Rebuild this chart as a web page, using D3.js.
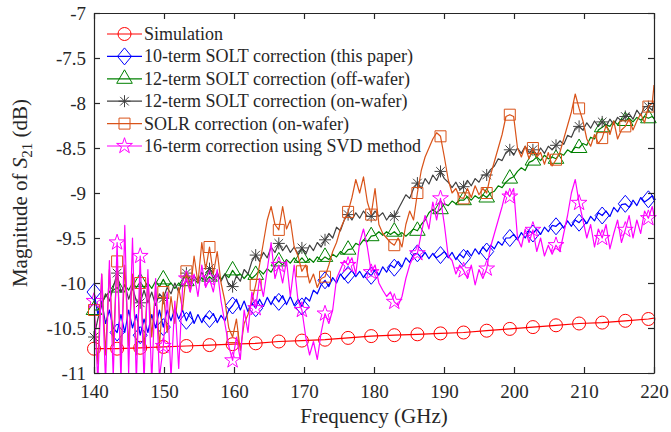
<!DOCTYPE html>
<html>
<head>
<script src="https://cdn.jsdelivr.net/npm/d3@7"></script>
</head>
<body style="margin:0">
<script>
// frequency grid of the measured curves (GHz), markers on every 6th point
var freq = d3.range(146).map(function(i) { return +(140 + 0.55 * i).toFixed(2); }).concat([220]);
var simFreq = freq.filter(function(f, i) { return i % 6 === 0 && i <= 144; }).concat([220]);

var simulation = [-10.73,-10.73,-10.72,-10.71,-10.70,-10.69,-10.68,-10.67,-10.65,-10.64,-10.63,-10.61,-10.59,
  -10.58,-10.57,-10.56,-10.55,-10.53,-10.51,-10.49,-10.47,-10.45,-10.44,-10.42,-10.40,-10.39];

var solt10 = [
  -10.10,-10.35,-10.20,-10.45,-10.30,-10.50,
  -10.55,-10.35,-10.55,-10.30,-10.50,-10.35,
  -10.58,-10.40,-10.55,-10.35,-10.50,-10.30,
  -10.49,-10.30,-10.42,-10.28,-10.40,-10.30,
  -10.42,-10.32,-10.45,-10.35,-10.44,-10.36,
  -10.40,-10.34,-10.44,-10.36,-10.42,-10.30,
  -10.25,-10.18,-10.30,-10.20,-10.32,-10.22,
  -10.28,-10.18,-10.26,-10.16,-10.24,-10.15,
  -10.21,-10.14,-10.24,-10.15,-10.25,-10.18,
  -10.26,-10.16,-10.20,-10.08,-10.12,-10.02,
  -9.97,-10.04,-9.94,-10.00,-9.90,-9.96,
  -9.91,-9.86,-9.93,-9.87,-9.94,-9.88,
  -9.92,-9.85,-9.91,-9.82,-9.88,-9.80,
  -9.83,-9.76,-9.82,-9.72,-9.77,-9.68,
  -9.67,-9.72,-9.66,-9.73,-9.67,-9.72,
  -9.69,-9.65,-9.72,-9.66,-9.74,-9.68,
  -9.72,-9.64,-9.70,-9.62,-9.68,-9.60,
  -9.65,-9.58,-9.62,-9.54,-9.58,-9.50,
  -9.50,-9.46,-9.52,-9.44,-9.50,-9.42,
  -9.45,-9.40,-9.46,-9.38,-9.43,-9.36,
  -9.37,-9.33,-9.39,-9.31,-9.37,-9.30,
  -9.33,-9.28,-9.34,-9.26,-9.31,-9.22,
  -9.25,-9.20,-9.26,-9.16,-9.21,-9.13,
  -9.12,-9.16,-9.08,-9.14,-9.05,-9.10,
  -9.07,-9.03,-9.08];

var solt12Off = [
  -10.30,-10.30,-10.22,-10.15,-10.10,-10.08,
  -10.05,-10.10,-10.02,-10.08,-10.00,-10.05,
  -9.99,-10.05,-10.00,-10.06,-9.98,-10.04,
  -9.96,-10.04,-10.00,-10.06,-10.00,-10.04,
  -9.98,-10.02,-9.96,-10.00,-9.94,-9.98,
  -9.93,-9.97,-9.92,-9.96,-9.90,-9.94,
  -9.86,-9.92,-9.90,-9.95,-9.90,-9.95,
  -9.91,-9.86,-9.90,-9.84,-9.88,-9.80,
  -9.76,-9.80,-9.74,-9.78,-9.72,-9.77,
  -9.72,-9.77,-9.73,-9.77,-9.71,-9.75,
  -9.71,-9.74,-9.68,-9.71,-9.65,-9.68,
  -9.63,-9.62,-9.56,-9.58,-9.52,-9.54,
  -9.48,-9.47,-9.43,-9.47,-9.43,-9.46,
  -9.43,-9.47,-9.44,-9.48,-9.44,-9.40,
  -9.42,-9.35,-9.30,-9.22,-9.18,-9.22,
  -9.18,-9.12,-9.14,-9.09,-9.12,-9.08,
  -9.08,-9.04,-9.08,-9.03,-9.06,-9.02,
  -9.05,-9.00,-8.98,-8.92,-8.94,-8.88,
  -8.84,-8.82,-8.76,-8.72,-8.75,-8.66,
  -8.64,-8.60,-8.64,-8.58,-8.62,-8.60,
  -8.62,-8.56,-8.58,-8.52,-8.55,-8.49,
  -8.50,-8.45,-8.47,-8.38,-8.40,-8.30,
  -8.27,-8.24,-8.26,-8.20,-8.24,-8.18,
  -8.20,-8.17,-8.21,-8.16,-8.19,-8.15,
  -8.17,-8.15,-8.17];

var solt12On = [
  -10.60,-10.40,-10.25,-10.12,-10.20,-10.05,
  -9.89,-10.10,-10.02,-10.18,-10.05,-10.20,
  -10.22,-10.08,-10.22,-10.10,-10.25,-10.12,
  -10.17,-10.05,-10.12,-10.00,-10.10,-9.98,
  -9.89,-10.00,-9.92,-9.98,-9.88,-9.96,
  -9.84,-9.95,-9.88,-9.98,-9.90,-10.02,
  -10.04,-9.92,-9.98,-9.85,-9.90,-9.76,
  -9.69,-9.76,-9.66,-9.72,-9.60,-9.66,
  -9.56,-9.64,-9.58,-9.66,-9.60,-9.68,
  -9.61,-9.68,-9.58,-9.64,-9.55,-9.60,
  -9.52,-9.45,-9.50,-9.38,-9.42,-9.30,
  -9.24,-9.30,-9.22,-9.28,-9.20,-9.26,
  -9.26,-9.20,-9.26,-9.22,-9.30,-9.24,
  -9.26,-9.18,-9.10,-9.02,-9.06,-8.95,
  -8.89,-8.95,-8.84,-8.90,-8.80,-8.86,
  -8.76,-8.84,-8.88,-8.94,-8.88,-8.96,
  -8.93,-8.86,-8.92,-8.84,-8.88,-8.80,
  -8.80,-8.74,-8.70,-8.62,-8.64,-8.55,
  -8.52,-8.58,-8.50,-8.56,-8.48,-8.55,
  -8.52,-8.58,-8.50,-8.56,-8.48,-8.52,
  -8.47,-8.42,-8.46,-8.36,-8.38,-8.28,
  -8.26,-8.30,-8.22,-8.28,-8.20,-8.26,
  -8.21,-8.26,-8.18,-8.24,-8.16,-8.20,
  -8.15,-8.12,-8.18,-8.08,-8.14,-8.04,
  -8.04,-8.08,-8.00];

var solr = [
  -10.30,-10.90,-9.90,-10.80,-9.85,-10.70,
  -9.76,-10.85,-9.80,-10.70,-9.90,-10.80,
  -10.00,-10.75,-9.95,-10.60,-10.05,-10.70,
  -10.10,-10.55,-10.15,-10.45,-10.05,-10.30,
  -9.87,-10.10,-9.70,-10.00,-9.55,-9.85,
  -9.60,-9.90,-9.65,-10.00,-10.20,-10.50,
  -10.60,-10.40,-10.75,-10.45,-10.35,-10.20,
  -10.02,-9.80,-9.55,-9.30,-9.15,-9.35,
  -9.41,-9.15,-9.40,-9.30,-9.60,-9.70,
  -9.87,-9.80,-10.00,-9.90,-10.05,-9.95,
  -9.93,-9.80,-9.65,-9.55,-9.40,-9.30,
  -9.21,-9.05,-8.85,-9.00,-8.82,-9.10,
  -9.24,-8.95,-9.35,-9.45,-9.50,-9.55,
  -9.58,-9.50,-9.60,-9.35,-9.20,-9.30,
  -9.00,-8.75,-8.60,-8.50,-8.40,-8.33,
  -8.37,-8.60,-8.85,-9.00,-8.95,-9.05,
  -9.06,-8.95,-9.05,-8.92,-9.02,-8.95,
  -9.00,-8.80,-8.65,-8.50,-8.35,-8.15,
  -8.13,-8.15,-8.50,-8.60,-8.48,-8.62,
  -8.50,-8.60,-8.55,-8.68,-8.55,-8.70,
  -8.63,-8.55,-8.40,-8.25,-8.10,-7.90,
  -8.06,-8.20,-8.40,-8.48,-8.35,-8.45,
  -8.39,-8.25,-8.35,-8.20,-8.40,-8.30,
  -8.26,-8.18,-8.30,-8.20,-8.12,-8.22,
  -8.04,-8.00,-7.80];

var svd16 = [
  -10.20,-11.10,-9.90,-11.10,-9.75,-11.05,
  -9.55,-11.10,-9.36,-11.00,-9.50,-11.10,
  -9.70,-11.10,-9.85,-11.10,-9.95,-11.05,
  -10.70,-10.10,-11.05,-10.20,-10.95,-10.05,
  -9.95,-10.10,-9.90,-10.15,-9.80,-10.05,
  -9.95,-10.10,-9.85,-10.20,-10.45,-10.70,
  -10.86,-10.60,-10.85,-10.30,-10.55,-10.10,
  -10.28,-9.95,-10.15,-9.85,-9.55,-9.95,
  -9.80,-10.00,-9.75,-10.15,-9.80,-10.20,
  -10.30,-10.60,-10.80,-10.65,-10.85,-10.55,
  -10.34,-10.45,-10.30,-9.95,-9.85,-9.75,
  -9.80,-9.72,-9.90,-9.55,-9.40,-9.60,
  -9.88,-9.80,-10.00,-10.08,-10.15,-10.10,
  -10.21,-10.25,-10.15,-9.95,-9.80,-9.70,
  -9.67,-9.45,-9.25,-9.40,-9.10,-9.30,
  -9.06,-9.35,-9.70,-9.75,-9.90,-9.80,
  -9.86,-9.95,-9.80,-10.02,-9.85,-9.95,
  -9.84,-9.60,-9.45,-9.30,-9.15,-8.98,
  -9.04,-8.95,-9.50,-9.60,-9.40,-9.55,
  -9.41,-9.65,-9.50,-9.70,-9.58,-9.68,
  -9.58,-9.65,-9.45,-9.25,-9.00,-8.85,
  -9.11,-9.30,-9.50,-9.35,-9.60,-9.40,
  -9.50,-9.35,-9.62,-9.45,-9.30,-9.55,
  -9.41,-9.25,-9.50,-9.30,-9.45,-9.20,
  -9.28,-9.15,-9.25];

var names = ["Simulation", "10-term SOLT correction (this paper)", "12-term SOLT correction (off-wafer)",
  "12-term SOLT correction (on-wafer)", "SOLR correction (on-wafer)", "16-term correction using SVD method"];
var colors = ["#FF0000", "#0000FF", "#008000", "#404040", "#D95319", "#FF00FF"];
var markers = ["circle", "diamond", "triangle", "asterisk", "square", "star"];
var xTicks = [140, 150, 160, 170, 180, 190, 200, 210, 220];
var yTicks = [-11, -10.5, -10, -9.5, -9, -8.5, -8, -7.5, -7];

var series = [
  {x: simFreq, y: simulation, step: 1},
  {x: freq, y: solt10, step: 6},
  {x: freq, y: solt12Off, step: 6},
  {x: freq, y: solt12On, step: 6},
  {x: freq, y: solr, step: 6},
  {x: freq, y: svd16, step: 6}
];

var W = 671, H = 432;
var margin = {top: 13, right: 17, bottom: 59, left: 94},
    width = W - margin.left - margin.right,
    height = H - margin.top - margin.bottom;

var svg = d3.select("body").append("svg")
    .attr("width", W)
    .attr("height", H)
    .attr("font-family", "Times New Roman");

var g = svg.append("g")
    .attr("transform", "translate(" + margin.left + "," + margin.top + ")");

var x = d3.scaleLinear().domain([140, 220]).range([0, width]);
var y = d3.scaleLinear().domain([-11, -7]).range([height, 0]);

g.append("clipPath").attr("id", "clip")
  .append("rect").attr("width", width).attr("height", height);

// marker shapes (matlab-like sizes)
function markerPath(type) {
  if (type == "circle") {
    var r = 6.5;
    return "M" + r + ",0A" + r + "," + r + " 0 1,1 " + (-r) + ",0A" + r + "," + r + " 0 1,1 " + r + ",0Z";
  } else if (type == "diamond") {
    return "M0,-8.5L7,0L0,8.5L-7,0Z";
  } else if (type == "triangle") {
    return "M0,-9L7.8,4.5L-7.8,4.5Z";
  } else if (type == "square") {
    return "M-5.5,-5.5H5.5V5.5H-5.5Z";
  } else if (type == "asterisk") {
    var a = 6, b = 4.3;
    return "M" + (-a) + ",0H" + a + "M0," + (-a) + "V" + a +
      "M" + (-b) + "," + (-b) + "L" + b + "," + b + "M" + (-b) + "," + b + "L" + b + "," + (-b);
  } else {
    var R = 8.3, rr = 3.2, p = [];
    for (var k = 0; k < 10; k++) {
      var ang = -Math.PI / 2 + k * Math.PI / 5, rad = k % 2 ? rr : R;
      p.push([rad * Math.cos(ang), rad * Math.sin(ang)]);
    }
    return "M" + p.join("L") + "Z";
  }
}

var line = d3.line()
  .x(function(d) { return x(d[0]); })
  .y(function(d) { return y(d[1]); });

series.forEach(function(s, k) {
  var pts = s.x.map(function(f, i) { return [f, s.y[i]]; });
  g.append("path")
    .datum(pts)
    .attr("clip-path", "url(#clip)")
    .attr("fill", "none")
    .attr("stroke", colors[k])
    .attr("stroke-width", 1.2)
    .attr("stroke-linejoin", "round")
    .attr("d", line);

  var idx = d3.range(0, pts.length - 1, s.step);
  g.append("g").selectAll("path")
    .data(idx.map(function(i) { return pts[i]; }))
    .enter()
    .append("path")
      .attr("transform", function(d) { return "translate(" + x(d[0]) + "," + y(d[1]) + ")"; })
      .attr("d", markerPath(markers[k]))
      .attr("fill", "none")
      .attr("stroke", colors[k])
      .attr("stroke-width", 1);
});

// axes: box with inward ticks on all sides
var tickFmt = function(d) { return String(d); };
g.append("g").attr("transform", "translate(0," + height + ")")
  .call(d3.axisBottom(x).tickValues(xTicks).tickFormat(tickFmt).tickSize(-6).tickSizeOuter(0).tickPadding(12));
g.append("g")
  .call(d3.axisLeft(y).tickValues(yTicks).tickFormat(tickFmt).tickSize(-6).tickSizeOuter(0).tickPadding(8));
g.append("g")
  .call(d3.axisTop(x).tickValues(xTicks).tickFormat("").tickSize(-6).tickSizeOuter(0));
g.append("g").attr("transform", "translate(" + width + ",0)")
  .call(d3.axisRight(y).tickValues(yTicks).tickFormat("").tickSize(-6).tickSizeOuter(0));

g.selectAll("g").attr("font-family", "Times New Roman").attr("font-size", null);
g.selectAll(".domain, .tick line").attr("stroke", "#262626").attr("stroke-width", 1.2);
g.selectAll(".tick text")
  .attr("fill", "#262626")
  .attr("font-family", "Times New Roman")
  .style("font-family", "'Times New Roman'")
  .style("font-size", "19px");

// axis labels
svg.append("text")
  .attr("x", margin.left + width / 2)
  .attr("y", 423)
  .attr("text-anchor", "middle")
  .attr("fill", "#262626")
  .attr("font-family", "Times New Roman")
  .style("font-family", "'Times New Roman'")
  .style("font-size", "21px")
  .text("Frequency (GHz)");

var yl = svg.append("text")
  .attr("transform", "translate(27," + (margin.top + height / 2) + ") rotate(-90)")
  .attr("text-anchor", "middle")
  .attr("fill", "#262626")
  .attr("font-family", "Times New Roman")
  .style("font-family", "'Times New Roman'")
  .style("font-size", "21px");
yl.append("tspan").text("Magnitude of ");
yl.append("tspan").style("font-style", "italic").text("S");
yl.append("tspan").attr("dy", 5).style("font-size", "15px").text("21");
yl.append("tspan").attr("dy", -5).text(" (dB)");

// legend
for (var i = 0; i < names.length; i++) {
  var ly = margin.top + 21 + i * 22.4;
  var lg = svg.append("g").attr("transform", "translate(0," + ly + ")");
  lg.append("line").attr("x1", 107).attr("x2", 142).attr("y1", 0).attr("y2", 0)
    .attr("stroke", colors[i]).attr("stroke-width", 1.2);
  lg.append("path").attr("transform", "translate(124.5,0)")
    .attr("d", markerPath(markers[i]))
    .attr("fill", "none").attr("stroke", colors[i]).attr("stroke-width", 1);
  lg.append("text").attr("x", 144).attr("y", 0).attr("dy", "0.33em")
    .attr("fill", "#262626")
    .attr("font-family", "Times New Roman")
    .style("font-family", "'Times New Roman'")
    .style("font-size", "18px").text(names[i]);
}
</script>
</body>
</html>
